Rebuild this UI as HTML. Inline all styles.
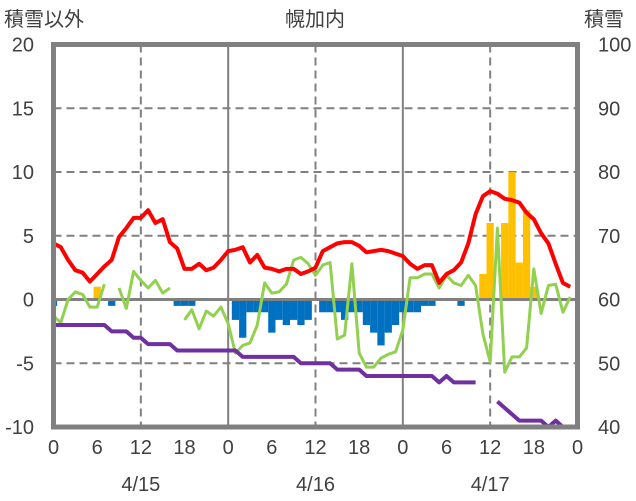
<!DOCTYPE html>
<html><head><meta charset="utf-8"><style>
body{margin:0;background:#fff;}
svg{display:block;font-family:"Liberation Sans","Noto Sans CJK JP",sans-serif;}
</style></head><body>
<svg id="chart" width="636" height="501"></svg>
<script>
const hours = Array.from({length:72},(_,i)=>i);
const temperature = [4.4,4.1,3.1,2.3,2.1,1.4,2.0,2.6,3.1,4.9,5.6,6.4,6.4,7.0,6.0,6.3,4.5,4.0,2.4,2.4,2.8,2.3,2.5,3.1,
3.8,3.9,4.1,2.9,3.5,2.5,2.4,2.2,2.4,2.4,2.0,2.2,2.5,3.8,4.1,4.4,4.5,4.5,4.2,3.7,3.8,3.9,3.8,3.6,
3.4,2.8,2.4,2.7,2.7,1.3,2.0,2.3,2.9,4.4,6.7,8.1,8.5,8.3,7.9,7.8,7.6,6.8,6.3,5.2,4.4,2.8,1.3,1.0];
const wind = [-1.3,-1.8,0,0.6,0.4,-0.6,-0.6,1.2,null,0.9,-0.7,2.2,1.5,0.9,1.5,0.5,0.9,null,-1.6,-0.8,-2.3,-0.9,-1.3,-0.6,
-1.9,-4.2,-3.6,-3.4,-2.0,1.3,0.5,0.6,1.2,3.1,3.3,2.8,1.9,2.7,2.9,-3.1,-2.8,2.8,-4.2,-5.3,-5.3,-4.6,-4.3,-4.1,
-2.4,1.7,1.7,2.0,2.0,0.9,1.9,1.3,1.1,1.9,1.1,-2.7,-4.9,5.6,-5.7,-4.5,-4.5,-3.8,2.4,-1.1,1.1,1.2,-1.0,0.2];
const precipitation = [-0.5,0,0,0,0,0,0,0,-0.5,0,0,0,0,0,0,0,0,-0.5,-0.5,-0.5,0,0,0,0,
0,-1.6,-3.0,-1.0,-1.0,-1.0,-2.6,-1.6,-2.0,-1.6,-2.0,-1.6,0,-1.0,-1.0,-1.0,-1.6,-1.0,-1.0,-2.0,-2.6,-3.6,-2.6,-2.0,
-1.0,-1.0,-1.0,-0.5,-0.5,0,0,0,-0.5,0,0,0,0,0,0,0,0,0,0,0,0,0,0,0];
const snowfall = [0,0,0,0,0,0,1.0,0,0,0,0,0,0,0,0,0,0,0,0,0,0,0,0,0,
0,0,0,0,0,0,0,0,0,0,0,0,0,0,0,0,0,0,0,0,0,0,0,0,
0,0,0,0,0,0,0,0,0,0,0,2.0,6.0,0,6.0,10.0,2.9,7.0,1.0,0,0,0,0,0];
const snowDepth = [56,56,56,56,56,56,56,56,55,55,55,54,54,53,53,53,53,52,52,52,52,52,52,52,
52,52,51,51,51,51,51,51,51,51,50,50,50,50,50,49,49,49,49,48,48,48,48,48,
48,48,48,48,48,47,48,47,47,47,47,null,null,44,43,42,41,41,41,41,40,41,40,40];
const leftTicks = [20,15,10,5,0,-5,-10];
const rightTicks = [100,90,80,70,60,50,40];
const xTickLabels = ["0","6","12","18","0","6","12","18","0","6","12","18","0"];
const dateLabels = ["4/15","4/16","4/17"];

const X0=53.5, X1=577.5, Y0=44.5, Y1=427;
const x = h => X0 + (X1-X0)*h/72;
const y = v => Y1 - (Y1-Y0)*(v+10)/30;
const yr = v => Y1 - (Y1-Y0)*(v-40)/60;
const svg=document.getElementById('chart');
const NS='http://www.w3.org/2000/svg';
function mk(tag,attrs,parent){const e=document.createElementNS(NS,tag);for(const k in attrs)e.setAttribute(k,attrs[k]);(parent||svg).appendChild(e);return e;}
const TXT='#404040';

// grid
[15,10,5,-5].forEach(v=>{
  const l=mk('line',{x1:X0,x2:X1,y1:y(v),y2:y(v),stroke:'#808080','stroke-width':2,'stroke-dasharray':'8,5'});
  
  
});
[12,36,60].forEach(h=>{
  const l=mk('line',{x1:x(h),x2:x(h),y1:Y0,y2:Y1,stroke:'#808080','stroke-width':2,'stroke-dasharray':'8,5'});
  
  
});
[24,48].forEach(h=>{
  const l=mk('line',{x1:x(h),x2:x(h),y1:Y0,y2:Y1,stroke:'#808080','stroke-width':2});
  
  
});
const bw=(X1-X0)/72;
function bars(arr,color,name){
  arr.forEach((v,i)=>{
    if(!v)return;
    const x0=Math.max(X0,x(i)-bw/2), x1=Math.min(X1,x(i)+bw/2);
    const r=mk('rect',{x:x0,y:Math.min(y(0),y(v)),width:x1-x0,height:Math.abs(y(v)-y(0)),fill:color});
    
    
  });
}
bars(precipitation,'#0070C0','precipitation-bar');
bars(snowfall,'#FFC000','snowfall-bar');
const zl=mk('line',{x1:X0,x2:X1,y1:y(0),y2:y(0),stroke:'#808080','stroke-width':3});



function line(arr,fy,color,w,name){
  let d='',pen=false;
  arr.forEach((v,i)=>{
    if(v===null){pen=false;return;}
    d+=(pen?'L':'M')+x(i).toFixed(1)+' '+fy(v).toFixed(1)+' ';pen=true;
  });
  const p=mk('path',{d:d,fill:'none',stroke:color,'stroke-width':w,'stroke-linejoin':'round'});
  
  
}
line(wind,y,'#92D050',3,'wind-line');
line(snowDepth,yr,'#7030A0',4,'snow-depth-line');
line(temperature,y,'#FF0000',4,'temperature-line');

const fr=mk('rect',{x:X0,y:Y0,width:X1-X0,height:Y1-Y0,fill:'none',stroke:'#808080','stroke-width':5});



function text(s,xx,yy,anchor,name){
  const t=mk('text',{x:xx,y:yy,'text-anchor':anchor,'font-size':20,fill:TXT});
  t.textContent=s;
  
  
}
leftTicks.forEach(v=>text(String(v),34,y(v)+7,'end','left-tick-label'));
rightTicks.forEach(v=>text(String(v),598,yr(v)+7,'start','right-tick-label'));
xTickLabels.forEach((s,i)=>text(s,x(i*6),454,'middle','x-tick-label'));
dateLabels.forEach((s,i)=>text(s,x(12+24*i),491,'middle','date-label'));
text('積雪以外',4,26,'start','left-axis-title');
text('幌加内',315,26,'middle','chart-title');
text('積雪',584,26,'start','right-axis-title');
</script>
</body></html>
